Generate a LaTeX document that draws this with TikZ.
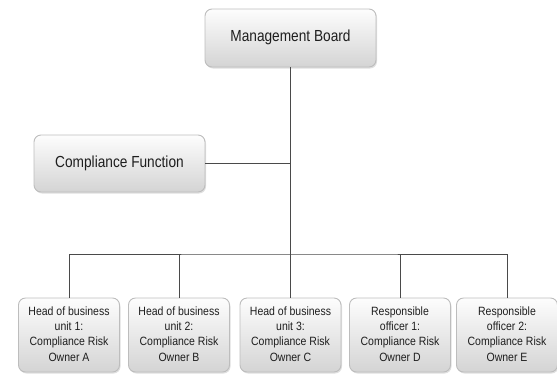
\documentclass[tikz,border=0pt]{standalone}
\usepackage{fontspec}
\setmainfont{Liberation Sans}
\usetikzlibrary{shadows}
\definecolor{boxtop}{HTML}{FDFDFD}
\definecolor{boxbot}{HTML}{D4D4D4}
\definecolor{boxline}{HTML}{BDBDBD}
\definecolor{conn}{HTML}{4A4A4A}
\definecolor{txt}{HTML}{1E1E1E}
\newcommand{\narrowtext}[2]{\scalebox{#1}[1]{\begin{tabular}{@{}c@{}}#2\end{tabular}}}
\tikzset{
  orgbox/.style={rectangle, rounded corners=7pt, draw=boxline, line width=0.9pt,
    top color=boxtop, bottom color=boxbot, inner sep=2pt, align=center, text=txt,
    drop shadow={opacity=0.25, shadow xshift=1pt, shadow yshift=-1.5pt}},
  bigbox/.style={orgbox, minimum width=171pt, font=\fontsize{16}{18}\selectfont},
  smallbox/.style={orgbox, minimum width=101pt, minimum height=74pt, font=\fontsize{12}{15.3}\selectfont},
  link/.style={draw=conn, line width=0.8pt}
}
\begin{document}
\begin{tikzpicture}[x=1pt,y=-1pt]
\useasboundingbox (0,0) rectangle (557,373);
\node[bigbox, minimum height=58pt] (mb) at (290.5,38) {\narrowtext{0.855}{Management Board}};
\node[bigbox, minimum height=57pt] (cf) at (119.5,163.5) {\narrowtext{0.855}{Compliance Function}};
\node[smallbox] (b1) at (69,335) {\narrowtext{0.875}{Head of business\\unit 1:\\Compliance Risk\\Owner A}};
\node[smallbox] (b2) at (179,335) {\narrowtext{0.875}{Head of business\\unit 2:\\Compliance Risk\\Owner B}};
\node[smallbox] (b3) at (290.5,335) {\narrowtext{0.875}{Head of business\\unit 3:\\Compliance Risk\\Owner C}};
\node[smallbox] (b4) at (400,335) {\narrowtext{0.875}{Responsible\\officer 1:\\Compliance Risk\\Owner D}};
\node[smallbox] (b5) at (507,335) {\narrowtext{0.875}{Responsible\\officer 2:\\Compliance Risk\\Owner E}};
\coordinate (bus) at (290.5,254);
\coordinate (cfj) at (290.5,163.5);
\draw[link] (mb.south) -- (bus);
\draw[link] (cf.east) -- (cfj);
\draw[link] (b1.north) |- (bus) -| (b5.north);
\foreach \b in {b2,b3,b4} \draw[link] (\b.north) -- (\b.north |- bus);
\end{tikzpicture}
\end{document}
